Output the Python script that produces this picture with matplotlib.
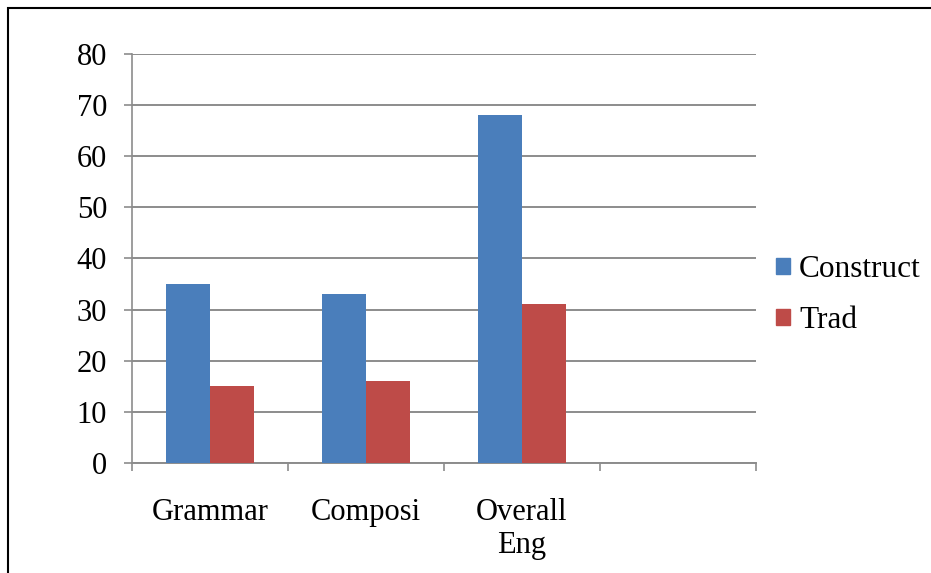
import matplotlib.pyplot as plt
import numpy as np
from matplotlib.patches import Patch, Rectangle

categories = ['Grammar', 'Composi', 'Overall\nEng', '']
construct = [35, 33, 68]
trad = [15, 16, 31]
yticks = [0, 10, 20, 30, 40, 50, 60, 70, 80]

blue = '#4a7ebb'
red = '#be4b48'
grid_col = '#8c8c8c'

plt.rcParams['font.family'] = ['Liberation Serif', 'DejaVu Serif']

fig = plt.figure(figsize=(9.31, 5.73), dpi=100, facecolor='w')
ax = fig.add_axes([0.1418, 0.192, 0.670, 0.714])

x = np.arange(len(construct))
w = 0.28
ax.bar(x - w / 2, construct, width=w, color=blue, zorder=3)
ax.bar(x + w / 2, trad, width=w, color=red, zorder=3)

ax.set_xlim(-0.5, len(categories) - 0.5)
ax.set_ylim(0, 80)
ax.set_yticks(yticks)
ax.set_yticklabels([str(v) for v in yticks], fontsize=22)
ax.yaxis.grid(True, color=grid_col, linewidth=1.4, zorder=0)
ax.tick_params(axis='y', length=6, width=1.2, color=grid_col, pad=12)

ax.set_xticks(np.arange(len(categories)))
ax.set_xticklabels(categories, fontsize=22, linespacing=1.2)
ax.set_xticks(np.arange(len(categories) + 1) - 0.5, minor=True)
ax.tick_params(axis='x', which='major', length=0, pad=25)
ax.tick_params(axis='x', which='minor', length=6, width=1.2, color=grid_col)

for s in ['top', 'right']:
    ax.spines[s].set_visible(False)
ax.spines['left'].set_color(grid_col)
ax.spines['bottom'].set_color(grid_col)
ax.spines['left'].set_linewidth(1.2)
ax.spines['bottom'].set_linewidth(1.4)

handles = [Patch(color=blue), Patch(color=red)]
fig.legend(handles, ['Construct', 'Trad'], loc='center left',
           bbox_to_anchor=(0.803, 0.485), frameon=False, fontsize=22.5,
           handlelength=0.45, handleheight=0.45, handletextpad=0.3,
           labelspacing=0.7)

# outer frame of the picture
fig.patches.append(Rectangle((0.009, -0.01), 1.0, 0.996, transform=fig.transFigure,
                             fill=False, edgecolor='black', linewidth=1.5))

fig.savefig('out.png', dpi=100)
